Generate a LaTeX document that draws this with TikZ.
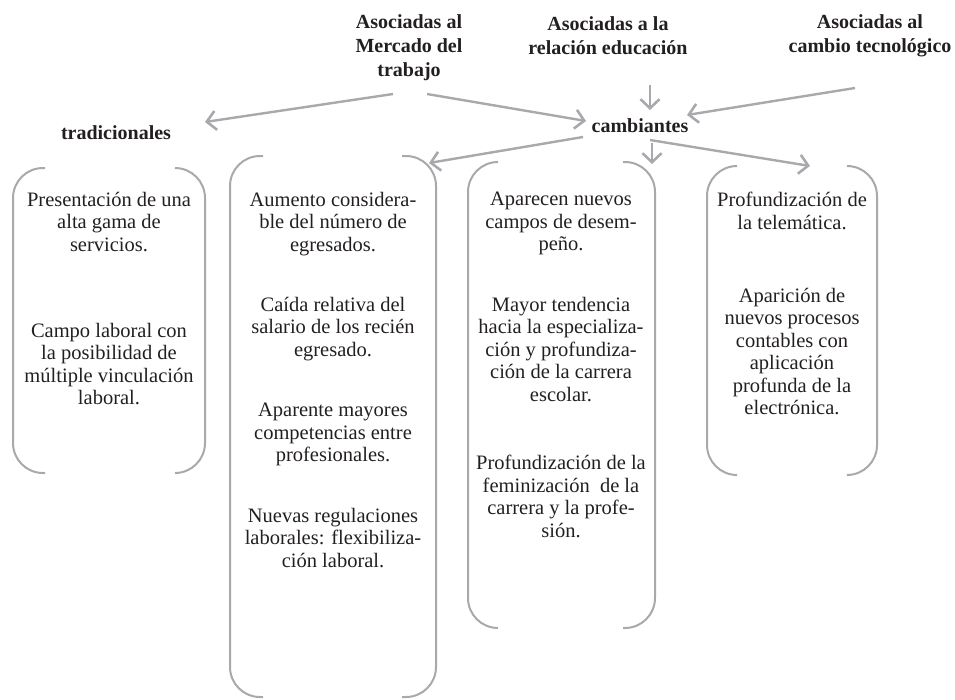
\documentclass[tikz,border=0pt]{standalone}
\usepackage{fontspec}
\setmainfont{Liberation Serif}
\usetikzlibrary{arrows.meta}
\definecolor{lg}{HTML}{A7A9AC}
\definecolor{tx}{HTML}{231F20}
\begin{document}
\begin{tikzpicture}[x=1pt,y=-1pt,
 conn/.style={draw=lg,line width=2.4pt,-{Straight Barb[length=9pt,width=19pt,line width=2.6pt]}},
 brk/.style={draw=lg,line width=2pt,rounded corners=30pt},
 head/.style={font=\fontsize{20}{24}\selectfont\bfseries,align=center,text=tx,inner sep=0pt},
 body/.style={font=\fontsize{20.5}{22.5}\selectfont,align=center,text=tx,inner sep=0pt,anchor=north},
]
\useasboundingbox (0,0) rectangle (955,699);

% headings
\node[head] (h1) at (409,48) {Asociadas al\\Mercado del\\trabajo};
\node[head] (h2) at (608,36) {Asociadas a la\\relación educación};
\node[head] (h3) at (870,36) {Asociadas al\\cambio tecnológico};
\node[head] (trad) at (116,133) {tradicionales};
\node[head] (camb) at (640,126) {cambiantes};

% connector ends
\coordinate (a1s) at (393,94);  \coordinate (a1e) at (205,122);
\coordinate (a2s) at (427,94);  \coordinate (a2e) at (586,121);
\coordinate (a3s) at (650,85);  \coordinate (a3e) at (650,110);
\coordinate (a4s) at (855,88);  \coordinate (a4e) at (687,115);
\coordinate (a5s) at (583,137); \coordinate (a5e) at (429,163);
\coordinate (a6s) at (652,143); \coordinate (a6e) at (652,164);
\coordinate (a7s) at (650,140); \coordinate (a7e) at (810,166);

\draw[conn] (a1s) -- (a1e);
\draw[conn] (a2s) -- (a2e);
\draw[conn] (a3s) -- (a3e);
\draw[conn] (a4s) -- (a4e);
\draw[conn] (a5s) -- (a5e);
\draw[conn] (a6s) -- (a6e);
\draw[conn] (a7s) -- (a7e);

% bracket boxes
\draw[brk] (45,168) -- (13,168) -- (13,473) -- (45,473);
\draw[brk] (175,168) -- (205,168) -- (205,473) -- (175,473);
\draw[brk] (263,156) -- (230,156) -- (230,697) -- (263,697);
\draw[brk] (402,156) -- (436,156) -- (436,697) -- (402,697);
\draw[brk] (498,162) -- (468,162) -- (468,628) -- (498,628);
\draw[brk] (623,162) -- (655,162) -- (655,628) -- (623,628);
\draw[brk] (735,166) -- (707,166) -- (707,475) -- (735,475);
\draw[brk] (848,166) -- (877,166) -- (877,475) -- (848,475);

% box texts
\node[body] (t11) at (109,192) {Presentación de una\\alta gama de\\servicios.};
\node[body] (t12) at (109,323) {Campo laboral con\\la posibilidad de\\múltiple vinculación\\laboral.};

\node[body] (t21) at (333,192) {Aumento considera-\\ble del número de\\egresados.};
\node[body] (t22) at (333,297) {Caída relativa del\\salario de los recién\\egresado.};
\node[body] (t23) at (333,403) {Aparente mayores\\competencias entre\\profesionales.};
\node[body] (t24) at (333,508) {Nuevas regulaciones\\laborales: flexibiliza-\\ción laboral.};

\node[body] (t31) at (561,192) {Aparecen nuevos\\campos de desem-\\peño.};
\node[body] (t32) at (561,297) {Mayor tendencia\\hacia la especializa-\\ción y profundiza-\\ción de la carrera\\escolar.};
\node[body] (t33) at (561,455) {Profundización de la\\feminización\ \ de la\\carrera y la profe-\\sión.};

\node[body] (t41) at (792,192) {Profundización de\\la telemática.};
\node[body] (t42) at (792,288) {Aparición de\\nuevos procesos\\contables con\\aplicación\\profunda de la\\electrónica.};
\end{tikzpicture}
\end{document}
